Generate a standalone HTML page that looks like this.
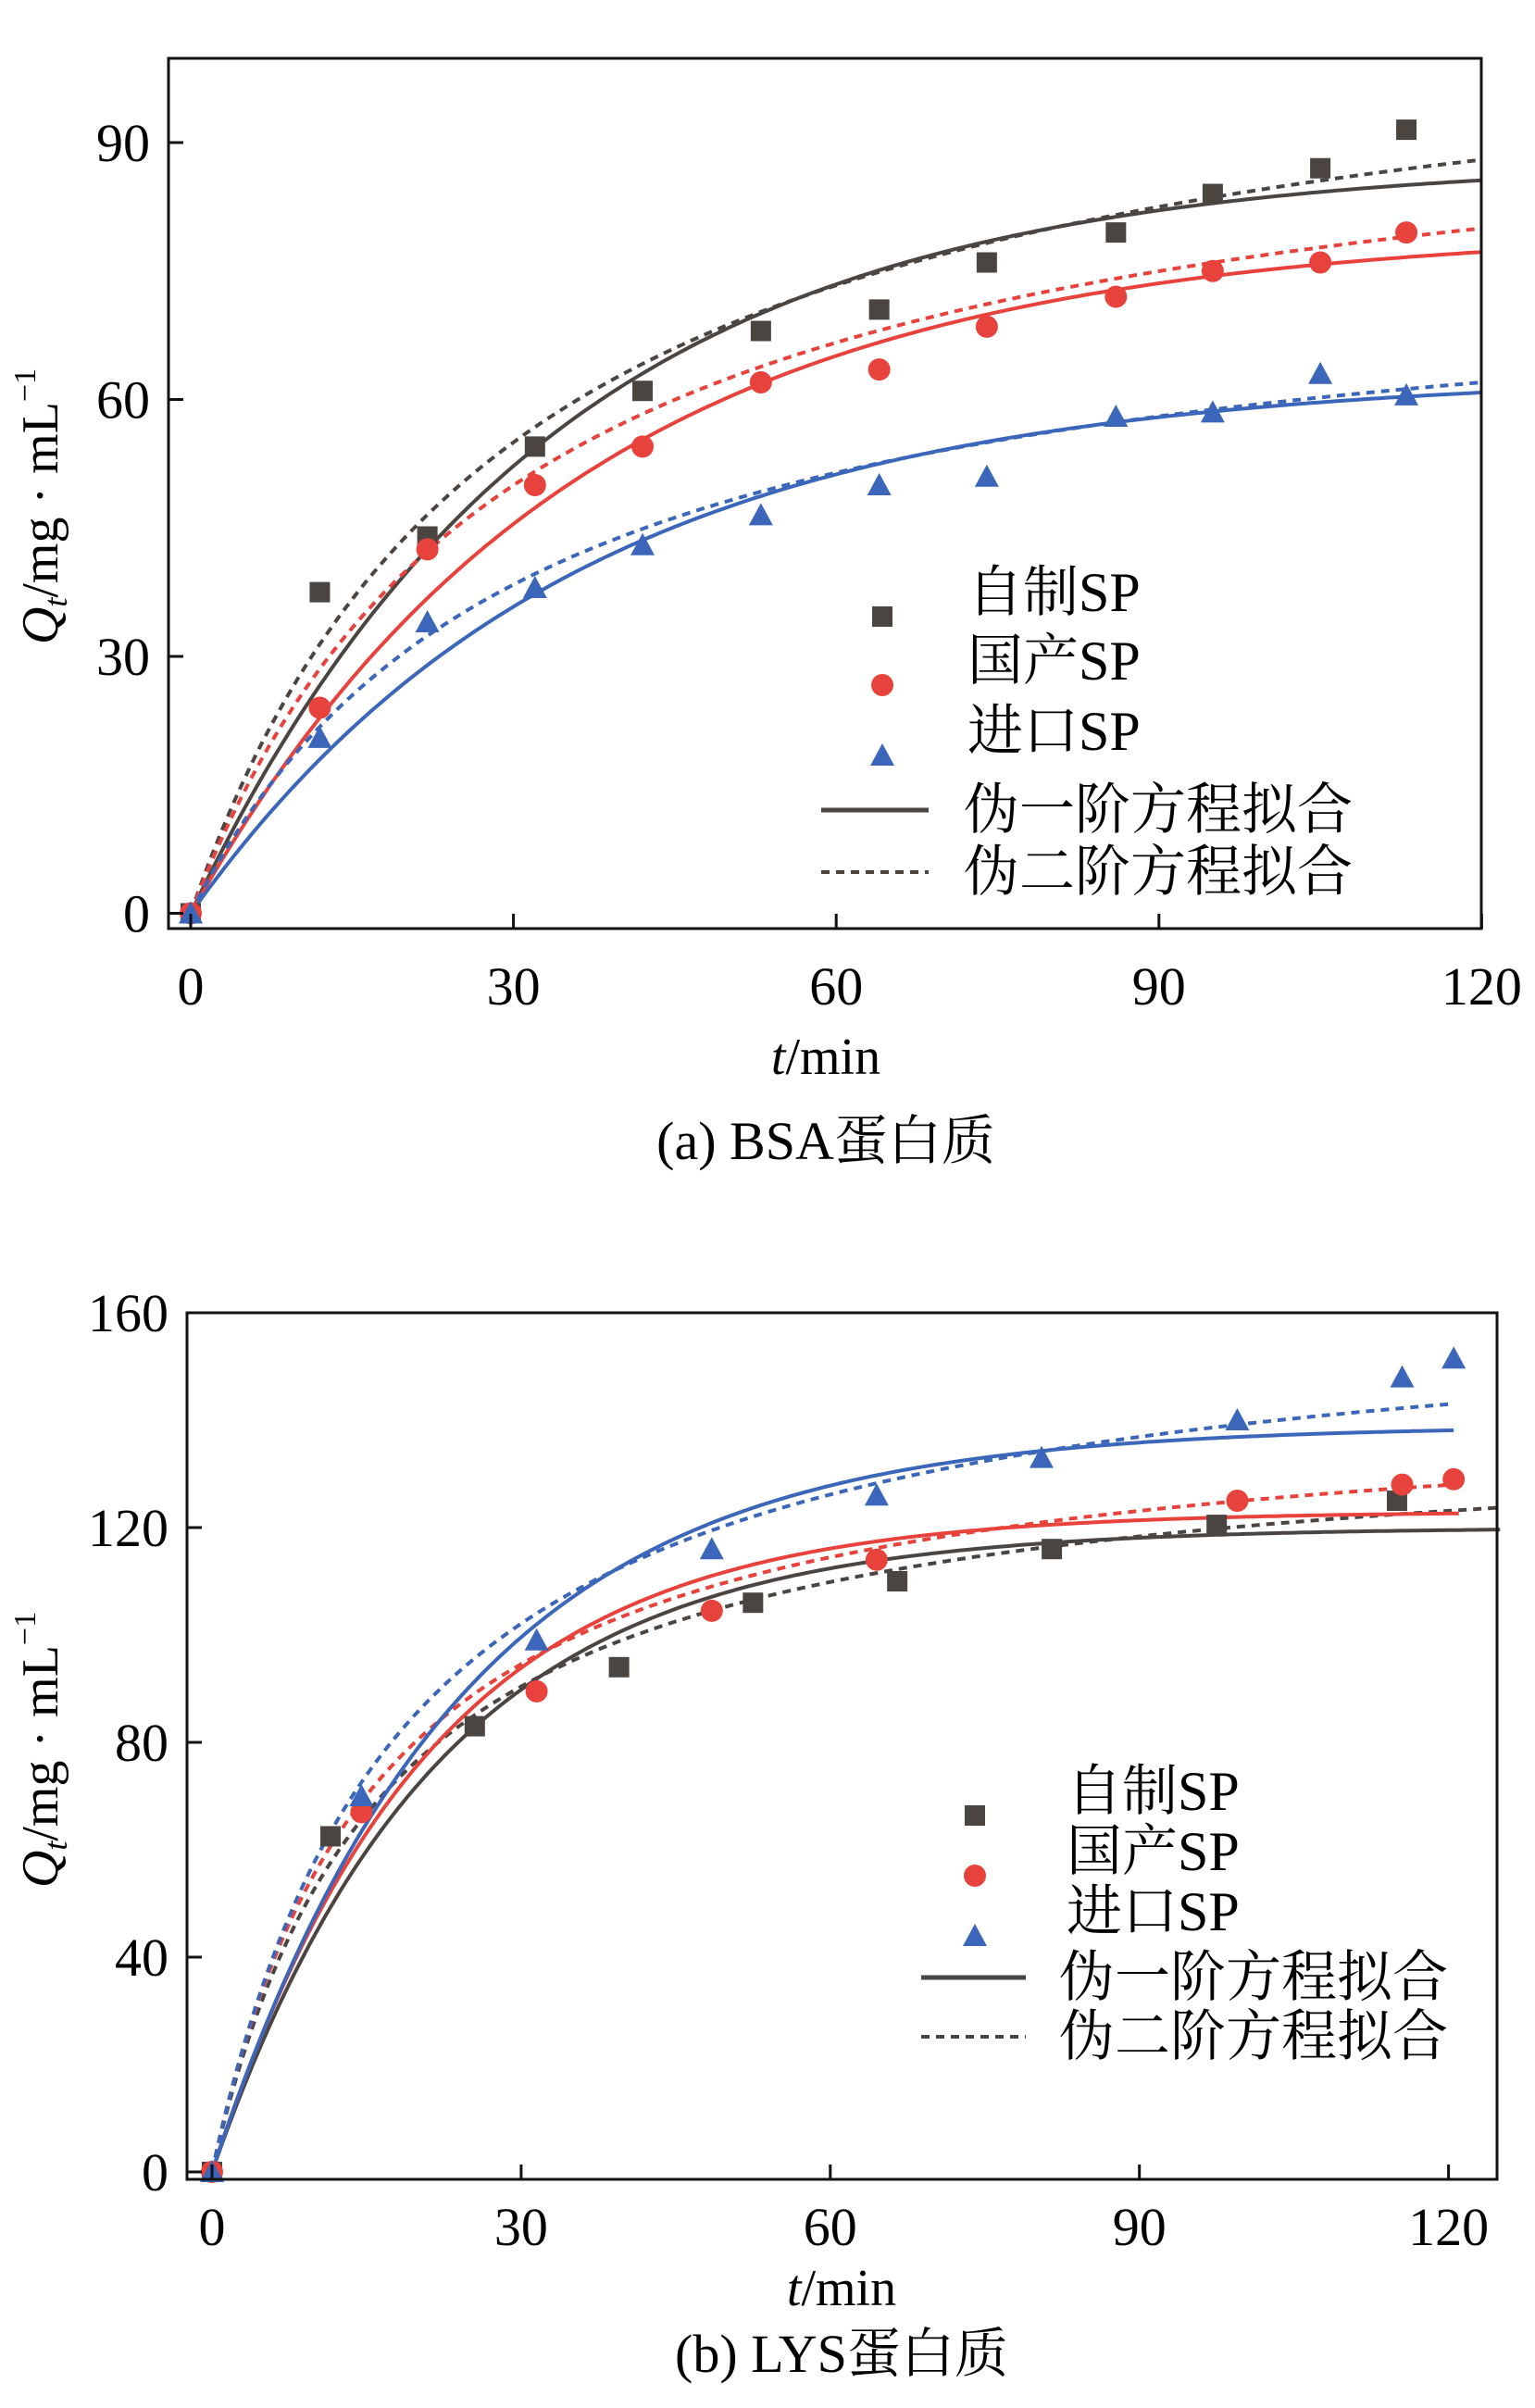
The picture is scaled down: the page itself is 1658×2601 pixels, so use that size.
<!DOCTYPE html>
<html><head><meta charset="utf-8"><style>
body{margin:0;background:#fff}
svg{display:block;font-family:"Liberation Serif","Noto Serif CJK SC",serif}
</style></head><body>
<svg id="s" width="1658" height="2601" viewBox="0 0 1658 2601"></svg>
<script>
// ---- Chart A data (BSA) ----
const aCats=['自制SP','国产SP','进口SP'];
const aT1=[0,12,22,32,42,53,64,74,86,95,105,113];
const aBlack=[0,37.5,44,54.5,61,68,70.5,76,79.5,84,87,91.5];
const aRed=[0,24,42.5,50,54.5,62,63.5,68.5,72,75,76,79.5];
const aBlue=[0,20.5,34,38,43,46.5,50,51,58,58.5,63,60.5];
const aPfoQe=[88,80,63];
const aPfoK=[0.030,0.028,0.028];
const aPsoQe=[110,100,78];
const aPsoK=[0.000303,0.000333,0.000414];
const aXTicks=[0,30,60,90,120];
const aYTicks=[0,30,60,90];
// ---- Chart B data (LYS) ----
const bTBlack=[0,11.5,25.5,39.5,52.5,66.5,81.5,97.5,115];
const bBlack=[0,62.5,83,94,106,110,116,120.5,125];
const bTRed=[0,14.5,31.5,48.5,64.5,99.5,115.5,120.5];
const bRed=[0,67,89.5,104.5,114,125,128,129];
const bTBlue=[0,14.5,31.5,48.5,64.5,80.5,99.5,115.5,120.5];
const bBlue=[0,70,99,116,126,133,140,148,151.5];
const bPfoQe=[120,123,139];
const bPfoK=[0.046,0.048,0.042];
const bPsoQe=[140,145,165];
const bPsoK=[0.000434,0.000431,0.000328];
const bXTicks=[0,30,60,90,120];
const bYTicks=[0,40,80,120,160];

const NS='http://www.w3.org/2000/svg';
const svg=document.getElementById('s');
const cols=['#4b4542','#e8423c','#3b66b9'];
function mk(tag,at,par){const e=document.createElementNS(NS,tag);for(const k in at)e.setAttribute(k,at[k]);(par||svg).appendChild(e);return e;}

function chart(o){
  const g=mk('g',{});
  
  
  const X=v=>o.x0+v*o.sx, Y=v=>o.y0-v*o.sy;
  for(let i=0;i<3;i++){
    let d1='',d2='';
    for(let t=0;t<=o.tEnd[i];t+=0.5){
      const q1=o.pfoQe[i]*(1-Math.exp(-o.pfoK[i]*t));
      const x=o.psoK[i]*o.psoQe[i]*t;const q2=o.psoQe[i]*x/(1+x);
      d1+=(t?'L':'M')+X(t).toFixed(1)+' '+Y(q1).toFixed(1);
      d2+=(t?'L':'M')+X(t).toFixed(1)+' '+Y(q2).toFixed(1);
    }
    const p1=mk('path',{d:d1,fill:'none',stroke:cols[i],'stroke-width':4},g);
    
    
    const p2=mk('path',{d:d2,fill:'none',stroke:cols[i],'stroke-width':4,'stroke-dasharray':'9 7'},g);
    
    
  }
  o.series.forEach((s,i)=>{
    s.t.forEach((t,j)=>{
      const e=marker(i,X(t),Y(s.v[j]),g);
      
      
    });
  });
  const b=mk('rect',{x:o.L,y:o.T,width:o.R-o.L,height:o.B-o.T,fill:'none',stroke:'#111','stroke-width':3},g);
  
  
  o.xt.forEach(v=>{
    mk('line',{x1:X(v),x2:X(v),y1:o.B,y2:o.B-16,stroke:'#111','stroke-width':3},g);
    const t=mk('text',{x:X(v),y:o.xLabY,'font-size':58,'text-anchor':'middle'},g);t.textContent=v;
    
    
  });
  o.yt.forEach(v=>{
    mk('line',{x1:o.L,x2:o.L+16,y1:Y(v),y2:Y(v),stroke:'#111','stroke-width':3},g);
    const t=mk('text',{x:o.L-20,y:Y(v)+20,'font-size':58,'text-anchor':'end'},g);t.textContent=v;
    
    
  });
  const yt=mk('text',{transform:`translate(${o.yTitX},${o.yTitY}) rotate(-90)`,'font-size':56,'text-anchor':'middle'},g);
  yt.innerHTML='<tspan font-style="italic">Q</tspan><tspan font-style="italic" font-size="36" dy="10">t</tspan><tspan dy="-10">/mg · mL</tspan><tspan font-size="34" dy="-24">−1</tspan>';
  
  
  const xt=mk('text',{x:o.xTitX,y:o.xTitY,'font-size':56,'text-anchor':'middle'},g);
  xt.innerHTML='<tspan font-style="italic">t</tspan>/min';
  
  
  const cap=mk('text',{x:o.xTitX,y:o.capY,'font-size':58,'text-anchor':'middle'},g);
  cap.textContent=o.caption;
  
  
  const lg=mk('g',{},g);
  
  
  aCats.forEach((c,i)=>{
    const m=marker(i,o.lgMX,o.lgY[i]+6,lg);
    
    
    const t=mk('text',{x:o.lgTX,y:o.lgY[i],'font-size':60},lg);t.textContent=c;
    
    
  });
  ['伪一阶方程拟合','伪二阶方程拟合'].forEach((c,i)=>{
    const y=o.lgLY[i];
    mk('line',{x1:o.lgL1,x2:o.lgL2,y1:y,y2:y,stroke:'#4b4542','stroke-width':i?4:5,'stroke-dasharray':i?'9 7':'none'},lg);
    const t=mk('text',{x:o.lgLT,y:y+20,'font-size':60},lg);t.textContent=c;
    
    
  });
}
function marker(i,x,y,par){
  if(i===0)return mk('rect',{x:x-11,y:y-11,width:22,height:22,fill:cols[0]},par);
  if(i===1)return mk('circle',{cx:x,cy:y,r:12,fill:cols[1]},par);
  return mk('path',{d:`M${x} ${y-13}L${x+13} ${y+11}L${x-13} ${y+11}Z`,fill:cols[2]},par);
}
chart({name:'chart-a-bsa',x0:206,sx:11.62,y0:986.5,sy:9.25,L:182,R:1600,T:63,B:1003,
  series:[{t:aT1,v:aBlack},{t:aT1,v:aRed},{t:aT1,v:aBlue}],
  pfoQe:aPfoQe,pfoK:aPfoK,psoQe:aPsoQe,psoK:aPsoK,tEnd:[120,120,120],
  xt:aXTicks,yt:aYTicks,xLabY:1085,yTitX:62,yTitY:547,xTitX:892,xTitY:1160,capY:1252,caption:'(a) BSA蛋白质',
  lgMX:953,lgTX:1045,lgY:[660,734,810],lgL1:887,lgL2:1003,lgLT:1041,lgLY:[875,942]});
chart({name:'chart-b-lys',x0:229,sx:11.13,y0:2346,sy:5.8,L:202,R:1617,T:1418,B:2354,
  series:[{t:bTBlack,v:bBlack},{t:bTRed,v:bRed},{t:bTBlue,v:bBlue}],
  pfoQe:bPfoQe,pfoK:bPfoK,psoQe:bPsoQe,psoK:bPsoK,tEnd:[125,121,120.5],
  xt:bXTicks,yt:bYTicks,xLabY:2425,yTitX:62,yTitY:1890,xTitX:909,xTitY:2490,capY:2562,caption:'(b) LYS蛋白质',
  lgMX:1053,lgTX:1152,lgY:[1955,2020,2085],lgL1:995,lgL2:1108,lgLT:1144,lgLY:[2136,2200]});
</script>
</body></html>
